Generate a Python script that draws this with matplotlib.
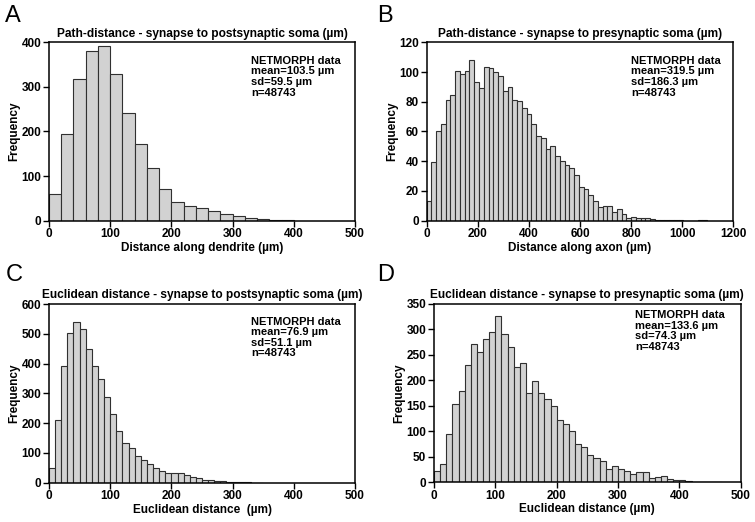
import numpy as np
import matplotlib
matplotlib.use("Agg")
import matplotlib.pyplot as plt

plt.rcParams['font.family'] = ['Liberation Sans', 'DejaVu Sans']
plt.rcParams['font.weight'] = 'bold'
plt.rcParams['axes.titleweight'] = 'bold'
plt.rcParams['axes.labelweight'] = 'bold'

# bin widths (um) and counts
width_a = 20
counts_a = [59, 194, 318, 380, 392, 329, 242, 171, 119, 70, 43, 34, 29, 22,
            14, 10, 7, 3, 1.5, 0.7]

width_b = 18.6
counts_b = [13.5, 39.5, 60.5, 65, 81, 84.5, 101, 99, 101, 108, 93.5, 89.5,
            103.5, 103, 100, 97, 87.5, 89.7, 81.5, 80.3, 76, 72, 65, 57,
            55.6, 48.5, 50.5, 43.3, 40, 37.5, 35.4, 31, 22.7, 21.3, 17.3,
            13.5, 9.4, 9.9, 9.9, 5.8, 8, 4.3, 1.8, 2.5, 2, 2, 1.8, 1, 0.8,
            0.5, 0.5, 0.3, 0.3, 0.5, 0, 0, 0, 0.3, 0.5]

width_c = 10
counts_c = [48, 210, 391, 503, 538, 515, 448, 393, 348, 288, 229, 173, 134,
            117, 91, 77, 62, 51, 40, 34, 31, 34, 26, 19, 16, 10, 8, 6, 6.5,
            3.5, 3.5, 1.2, 1, 0.5, 0.3]

width_d = 10
counts_d = [21.5, 36, 94, 153, 178, 230, 271, 256, 281, 294, 325, 290, 265,
            225, 233, 175, 199, 175, 164, 150, 122, 115, 100, 75, 70, 53, 48,
            42, 27, 32, 27, 21.5, 17, 20, 19.5, 9, 10, 12, 6, 4, 4, 2, 1.3,
            1.3, 0.7, 0.7, 0.3]

titles = ["Path-distance - synapse to postsynaptic soma (\u00b5m)",
          "Path-distance - synapse to presynaptic soma (\u00b5m)",
          "Euclidean distance - synapse to postsynaptic soma (\u00b5m)",
          "Euclidean distance - synapse to presynaptic soma (\u00b5m)"]
xlabels = ["Distance along dendrite (\u00b5m)", "Distance along axon (\u00b5m)",
           "Euclidean distance  (\u00b5m)", "Euclidean distance (\u00b5m)"]
stats = [("103.5", "59.5"), ("319.5", "186.3"), ("76.9", "51.1"), ("133.6", "74.3")]
letters = ["A", "B", "C", "D"]

fig = plt.figure(figsize=(7.55, 5.22), dpi=100)

panels = [
    (counts_a, width_a, [0.0649, 0.5772, 0.4053, 0.3418], 500, 100, 400, 100, (0.66, 0.925)),
    (counts_b, width_b, [0.5652, 0.5772, 0.4061, 0.3418], 1200, 200, 120, 20, (0.666, 0.925)),
    (counts_c, width_c, [0.0649, 0.0753, 0.4053, 0.3423], 500, 100, 600, 100, (0.66, 0.93)),
    (counts_d, width_d, [0.5748, 0.0760, 0.4062, 0.3423], 500, 100, 350, 50, (0.655, 0.965)),
]

for i, (counts, w, pos, xmax, xstep, ymax, ystep, tpos) in enumerate(panels):
    ax = fig.add_axes(pos)
    edges = np.arange(len(counts) + 1) * w
    ax.hist(edges[:-1], bins=edges, weights=counts, color='#d2d2d2',
            edgecolor='#303030', linewidth=0.8)
    ax.set_xlim(0, xmax)
    ax.set_ylim(0, ymax)
    ax.set_xticks(np.arange(0, xmax + 1, xstep))
    ax.set_yticks(np.arange(0, ymax + 1, ystep))
    ax.tick_params(labelsize=8.5, length=4, width=1, pad=1.5)
    for s in ax.spines.values():
        s.set_linewidth(1.1)
    ax.set_title(titles[i], fontsize=8.6, pad=4)
    ax.set_xlabel(xlabels[i], fontsize=8.5, labelpad=1)
    ax.set_ylabel("Frequency", fontsize=8.5, labelpad=1)
    m, sd = stats[i]
    ax.text(tpos[0], tpos[1], "NETMORPH data\nmean=%s \u00b5m\nsd=%s \u00b5m\nn=48743" % (m, sd),
            transform=ax.transAxes, fontsize=8, va='top', ha='left', linespacing=1.08)

fig.text(0.007, 0.99, "A", fontsize=17, fontweight='normal', va='top')
fig.text(0.500, 0.99, "B", fontsize=17, fontweight='normal', va='top')
fig.text(0.007, 0.495, "C", fontsize=17, fontweight='normal', va='top')
fig.text(0.500, 0.495, "D", fontsize=17, fontweight='normal', va='top')

fig.savefig("out.png", dpi=100)
